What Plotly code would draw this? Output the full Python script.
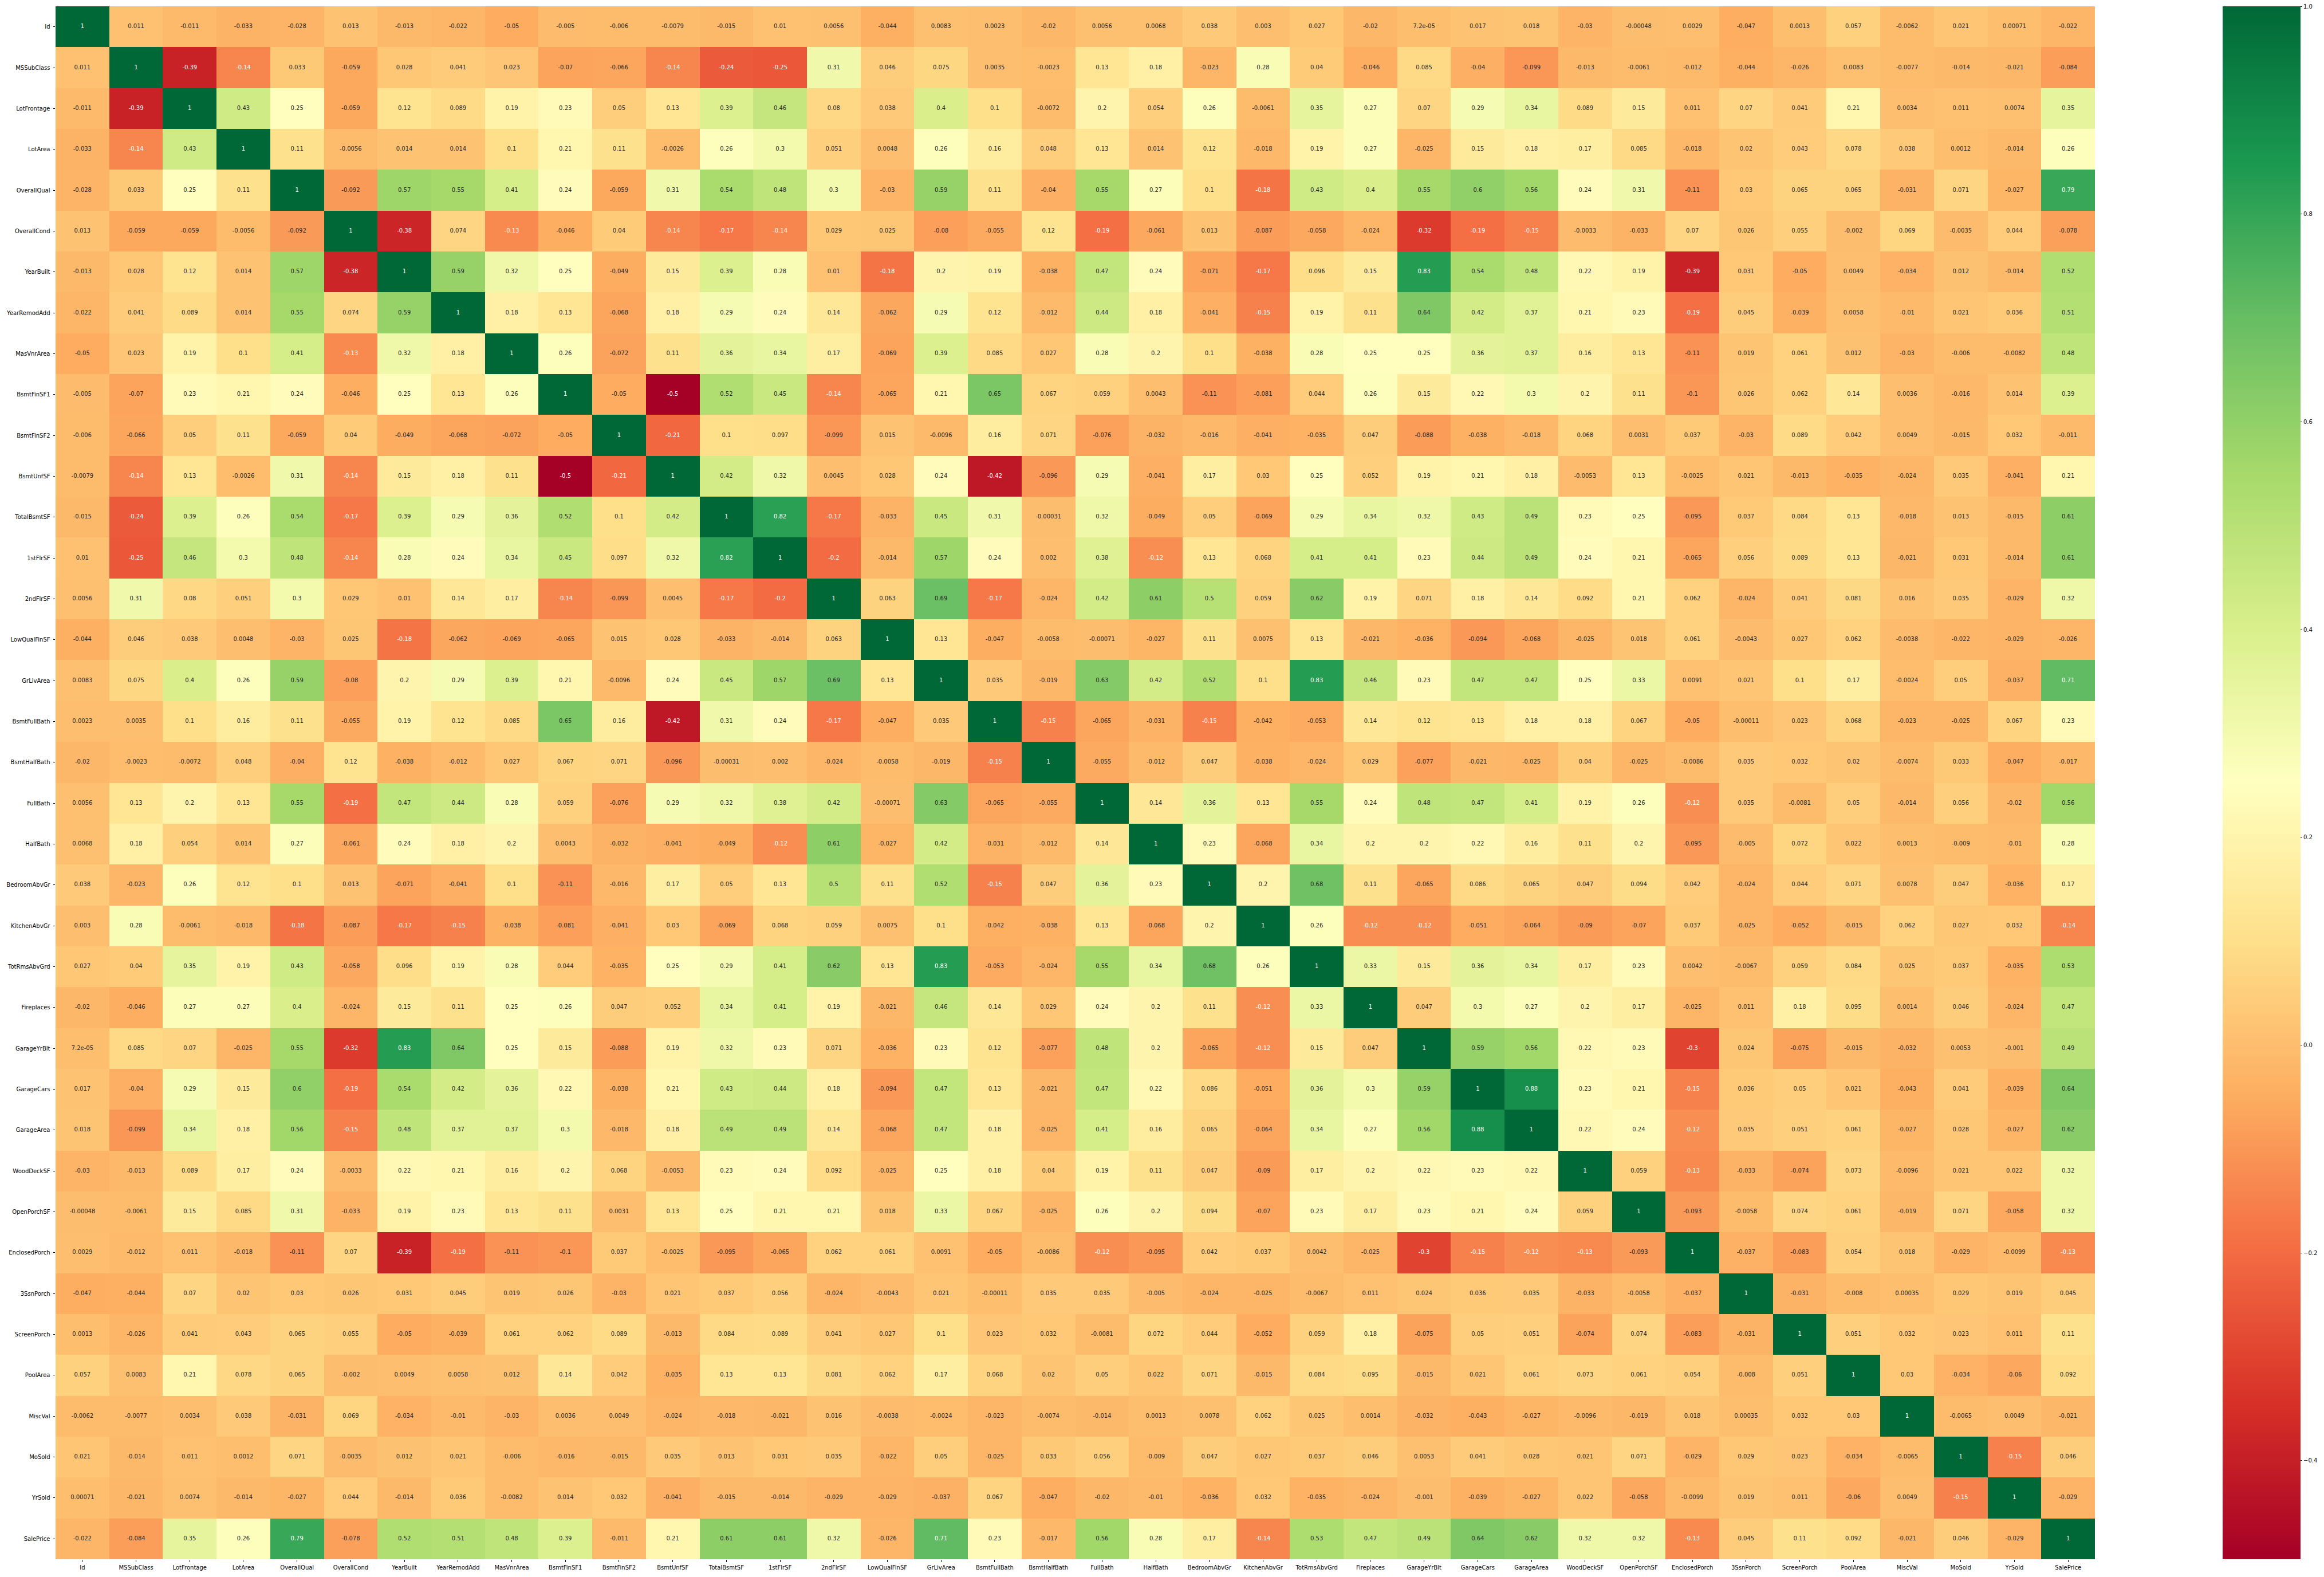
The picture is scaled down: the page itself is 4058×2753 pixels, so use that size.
import plotly.graph_objects as go

columns = ["Id", "MSSubClass", "LotFrontage", "LotArea", "OverallQual", "OverallCond",
           "YearBuilt", "YearRemodAdd", "MasVnrArea", "BsmtFinSF1", "BsmtFinSF2", "BsmtUnfSF",
           "TotalBsmtSF", "1stFlrSF", "2ndFlrSF", "LowQualFinSF", "GrLivArea", "BsmtFullBath",
           "BsmtHalfBath", "FullBath", "HalfBath", "BedroomAbvGr", "KitchenAbvGr", "TotRmsAbvGrd",
           "Fireplaces", "GarageYrBlt", "GarageCars", "GarageArea", "WoodDeckSF", "OpenPorchSF",
           "EnclosedPorch", "3SsnPorch", "ScreenPorch", "PoolArea", "MiscVal", "MoSold", "YrSold",
           "SalePrice"]

# Lower-triangle rows of the correlation matrix (row i holds columns 0..i)
row_Id = [1]
row_MSSubClass = [0.011, 1]
row_LotFrontage = [-0.011, -0.39, 1]
row_LotArea = [-0.033, -0.14, 0.43, 1]
row_OverallQual = [-0.028, 0.033, 0.25, 0.11, 1]
row_OverallCond = [0.013, -0.059, -0.059, -0.0056, -0.092, 1]
row_YearBuilt = [-0.013, 0.028, 0.12, 0.014, 0.57, -0.38, 1]
row_YearRemodAdd = [-0.022, 0.041, 0.089, 0.014, 0.55, 0.074, 0.59, 1]
row_MasVnrArea = [-0.05, 0.023, 0.19, 0.1, 0.41, -0.13, 0.32, 0.18, 1]
row_BsmtFinSF1 = [-0.005, -0.07, 0.23, 0.21, 0.24, -0.046, 0.25, 0.13, 0.26, 1]
row_BsmtFinSF2 = [-0.006, -0.066, 0.05, 0.11, -0.059, 0.04, -0.049, -0.068, -0.072, -0.05, 1]
row_BsmtUnfSF = [-0.0079, -0.14, 0.13, -0.0026, 0.31, -0.14, 0.15, 0.18, 0.11, -0.5, -0.21, 1]
row_TotalBsmtSF = [-0.015, -0.24, 0.39, 0.26, 0.54, -0.17, 0.39, 0.29, 0.36, 0.52, 0.1, 0.42, 1]
row_1stFlrSF = [0.01, -0.25, 0.46, 0.3, 0.48, -0.14, 0.28, 0.24, 0.34, 0.45, 0.097, 0.32, 0.82, 1]
row_2ndFlrSF = [0.0056, 0.31, 0.08, 0.051, 0.3, 0.029, 0.01, 0.14, 0.17, -0.14, -0.099, 0.0045,
                -0.17, -0.2, 1]
row_LowQualFinSF = [-0.044, 0.046, 0.038, 0.0048, -0.03, 0.025, -0.18, -0.062, -0.069, -0.065,
                    0.015, 0.028, -0.033, -0.014, 0.063, 1]
row_GrLivArea = [0.0083, 0.075, 0.4, 0.26, 0.59, -0.08, 0.2, 0.29, 0.39, 0.21, -0.0096, 0.24,
                 0.45, 0.57, 0.69, 0.13, 1]
row_BsmtFullBath = [0.0023, 0.0035, 0.1, 0.16, 0.11, -0.055, 0.19, 0.12, 0.085, 0.65, 0.16,
                    -0.42, 0.31, 0.24, -0.17, -0.047, 0.035, 1]
row_BsmtHalfBath = [-0.02, -0.0023, -0.0072, 0.048, -0.04, 0.12, -0.038, -0.012, 0.027, 0.067,
                    0.071, -0.096, -0.00031, 0.002, -0.024, -0.0058, -0.019, -0.15, 1]
row_FullBath = [0.0056, 0.13, 0.2, 0.13, 0.55, -0.19, 0.47, 0.44, 0.28, 0.059, -0.076, 0.29,
                0.32, 0.38, 0.42, -0.00071, 0.63, -0.065, -0.055, 1]
row_HalfBath = [0.0068, 0.18, 0.054, 0.014, 0.27, -0.061, 0.24, 0.18, 0.2, 0.0043, -0.032,
                -0.041, -0.049, -0.12, 0.61, -0.027, 0.42, -0.031, -0.012, 0.14, 1]
row_BedroomAbvGr = [0.038, -0.023, 0.26, 0.12, 0.1, 0.013, -0.071, -0.041, 0.1, -0.11, -0.016,
                    0.17, 0.05, 0.13, 0.5, 0.11, 0.52, -0.15, 0.047, 0.36, 0.23, 1]
row_KitchenAbvGr = [0.003, 0.28, -0.0061, -0.018, -0.18, -0.087, -0.17, -0.15, -0.038, -0.081,
                    -0.041, 0.03, -0.069, 0.068, 0.059, 0.0075, 0.1, -0.042, -0.038, 0.13,
                    -0.068, 0.2, 1]
row_TotRmsAbvGrd = [0.027, 0.04, 0.35, 0.19, 0.43, -0.058, 0.096, 0.19, 0.28, 0.044, -0.035,
                    0.25, 0.29, 0.41, 0.62, 0.13, 0.83, -0.053, -0.024, 0.55, 0.34, 0.68, 0.26, 1]
row_Fireplaces = [-0.02, -0.046, 0.27, 0.27, 0.4, -0.024, 0.15, 0.11, 0.25, 0.26, 0.047, 0.052,
                  0.34, 0.41, 0.19, -0.021, 0.46, 0.14, 0.029, 0.24, 0.2, 0.11, -0.12, 0.33, 1]
row_GarageYrBlt = [7.2e-05, 0.085, 0.07, -0.025, 0.55, -0.32, 0.83, 0.64, 0.25, 0.15, -0.088,
                   0.19, 0.32, 0.23, 0.071, -0.036, 0.23, 0.12, -0.077, 0.48, 0.2, -0.065, -0.12,
                   0.15, 0.047, 1]
row_GarageCars = [0.017, -0.04, 0.29, 0.15, 0.6, -0.19, 0.54, 0.42, 0.36, 0.22, -0.038, 0.21,
                  0.43, 0.44, 0.18, -0.094, 0.47, 0.13, -0.021, 0.47, 0.22, 0.086, -0.051, 0.36,
                  0.3, 0.59, 1]
row_GarageArea = [0.018, -0.099, 0.34, 0.18, 0.56, -0.15, 0.48, 0.37, 0.37, 0.3, -0.018, 0.18,
                  0.49, 0.49, 0.14, -0.068, 0.47, 0.18, -0.025, 0.41, 0.16, 0.065, -0.064, 0.34,
                  0.27, 0.56, 0.88, 1]
row_WoodDeckSF = [-0.03, -0.013, 0.089, 0.17, 0.24, -0.0033, 0.22, 0.21, 0.16, 0.2, 0.068,
                  -0.0053, 0.23, 0.24, 0.092, -0.025, 0.25, 0.18, 0.04, 0.19, 0.11, 0.047, -0.09,
                  0.17, 0.2, 0.22, 0.23, 0.22, 1]
row_OpenPorchSF = [-0.00048, -0.0061, 0.15, 0.085, 0.31, -0.033, 0.19, 0.23, 0.13, 0.11, 0.0031,
                   0.13, 0.25, 0.21, 0.21, 0.018, 0.33, 0.067, -0.025, 0.26, 0.2, 0.094, -0.07,
                   0.23, 0.17, 0.23, 0.21, 0.24, 0.059, 1]
row_EnclosedPorch = [0.0029, -0.012, 0.011, -0.018, -0.11, 0.07, -0.39, -0.19, -0.11, -0.1,
                     0.037, -0.0025, -0.095, -0.065, 0.062, 0.061, 0.0091, -0.05, -0.0086, -0.12,
                     -0.095, 0.042, 0.037, 0.0042, -0.025, -0.3, -0.15, -0.12, -0.13, -0.093, 1]
row_3SsnPorch = [-0.047, -0.044, 0.07, 0.02, 0.03, 0.026, 0.031, 0.045, 0.019, 0.026, -0.03,
                 0.021, 0.037, 0.056, -0.024, -0.0043, 0.021, -0.00011, 0.035, 0.035, -0.005,
                 -0.024, -0.025, -0.0067, 0.011, 0.024, 0.036, 0.035, -0.033, -0.0058, -0.037, 1]
row_ScreenPorch = [0.0013, -0.026, 0.041, 0.043, 0.065, 0.055, -0.05, -0.039, 0.061, 0.062,
                   0.089, -0.013, 0.084, 0.089, 0.041, 0.027, 0.1, 0.023, 0.032, -0.0081, 0.072,
                   0.044, -0.052, 0.059, 0.18, -0.075, 0.05, 0.051, -0.074, 0.074, -0.083,
                   -0.031, 1]
row_PoolArea = [0.057, 0.0083, 0.21, 0.078, 0.065, -0.002, 0.0049, 0.0058, 0.012, 0.14, 0.042,
                -0.035, 0.13, 0.13, 0.081, 0.062, 0.17, 0.068, 0.02, 0.05, 0.022, 0.071, -0.015,
                0.084, 0.095, -0.015, 0.021, 0.061, 0.073, 0.061, 0.054, -0.008, 0.051, 1]
row_MiscVal = [-0.0062, -0.0077, 0.0034, 0.038, -0.031, 0.069, -0.034, -0.01, -0.03, 0.0036,
               0.0049, -0.024, -0.018, -0.021, 0.016, -0.0038, -0.0024, -0.023, -0.0074, -0.014,
               0.0013, 0.0078, 0.062, 0.025, 0.0014, -0.032, -0.043, -0.027, -0.0096, -0.019,
               0.018, 0.00035, 0.032, 0.03, 1]
row_MoSold = [0.021, -0.014, 0.011, 0.0012, 0.071, -0.0035, 0.012, 0.021, -0.006, -0.016, -0.015,
              0.035, 0.013, 0.031, 0.035, -0.022, 0.05, -0.025, 0.033, 0.056, -0.009, 0.047,
              0.027, 0.037, 0.046, 0.0053, 0.041, 0.028, 0.021, 0.071, -0.029, 0.029, 0.023,
              -0.034, -0.0065, 1]
row_YrSold = [0.00071, -0.021, 0.0074, -0.014, -0.027, 0.044, -0.014, 0.036, -0.0082, 0.014,
              0.032, -0.041, -0.015, -0.014, -0.029, -0.029, -0.037, 0.067, -0.047, -0.02, -0.01,
              -0.036, 0.032, -0.035, -0.024, -0.001, -0.039, -0.027, 0.022, -0.058, -0.0099,
              0.019, 0.011, -0.06, 0.0049, -0.15, 1]
row_SalePrice = [-0.022, -0.084, 0.35, 0.26, 0.79, -0.078, 0.52, 0.51, 0.48, 0.39, -0.011, 0.21,
                 0.61, 0.61, 0.32, -0.026, 0.71, 0.23, -0.017, 0.56, 0.28, 0.17, -0.14, 0.53,
                 0.47, 0.49, 0.64, 0.62, 0.32, 0.32, -0.13, 0.045, 0.11, 0.092, -0.021, 0.046,
                 -0.029, 1]

lower_rows = [row_Id, row_MSSubClass, row_LotFrontage, row_LotArea, row_OverallQual,
              row_OverallCond, row_YearBuilt, row_YearRemodAdd, row_MasVnrArea, row_BsmtFinSF1,
              row_BsmtFinSF2, row_BsmtUnfSF, row_TotalBsmtSF, row_1stFlrSF, row_2ndFlrSF,
              row_LowQualFinSF, row_GrLivArea, row_BsmtFullBath, row_BsmtHalfBath, row_FullBath,
              row_HalfBath, row_BedroomAbvGr, row_KitchenAbvGr, row_TotRmsAbvGrd, row_Fireplaces,
              row_GarageYrBlt, row_GarageCars, row_GarageArea, row_WoodDeckSF, row_OpenPorchSF,
              row_EnclosedPorch, row_3SsnPorch, row_ScreenPorch, row_PoolArea, row_MiscVal,
              row_MoSold, row_YrSold, row_SalePrice]

# colour-bar range
cbar_min = -0.495
cbar_max = 1.0
cbar_tickvals = [-0.4, -0.2, 0.0, 0.2, 0.4, 0.6, 0.8, 1.0]
cbar_ticktext = ["\u22120.4", "\u22120.2", "0.0", "0.2", "0.4", "0.6", "0.8", "1.0"]

n = len(columns)
for i, r in enumerate(lower_rows):
    assert len(r) == i + 1, (columns[i], len(r))

# full symmetric matrix
z = [[0.0] * n for _ in range(n)]
for i in range(n):
    for j in range(i + 1):
        z[i][j] = lower_rows[i][j]
        z[j][i] = lower_rows[i][j]

zmin, zmax = cbar_min, cbar_max

stops = ["#a50026", "#d73027", "#f46d43", "#fdae61", "#fee08b", "#ffffbf",
         "#d9ef8b", "#a6d96a", "#66bd63", "#1a9850", "#006837"]
colorscale = [[k / 10, c] for k, c in enumerate(stops)]


def hex2rgb(h):
    return tuple(int(h[k:k + 2], 16) / 255 for k in (1, 3, 5))


def cmap(v):
    t = (v - zmin) / (zmax - zmin)
    t = min(max(t, 0.0), 1.0)
    pos = t * 10
    k = min(int(pos), 9)
    f = pos - k
    a, b = hex2rgb(stops[k]), hex2rgb(stops[k + 1])
    return tuple(a[m] + (b[m] - a[m]) * f for m in range(3))


def luminance(rgb):
    lin = [c / 12.92 if c <= 0.03928 else ((c + 0.055) / 1.055) ** 2.4 for c in rgb]
    return 0.2126 * lin[0] + 0.7152 * lin[1] + 0.0722 * lin[2]


tx, ty, tt, tc = [], [], [], []
for i in range(n):
    for j in range(n):
        v = z[i][j]
        tx.append(columns[j])
        ty.append(columns[i])
        tt.append(format(v, ".2g"))
        tc.append("#262626" if luminance(cmap(v)) > 0.408 else "#ffffff")

fig = go.Figure()
fig.add_trace(go.Heatmap(
    z=z, x=columns, y=columns,
    colorscale=colorscale, zmin=zmin, zmax=zmax,
    xgap=0, ygap=0, hoverongaps=False,
    colorbar=dict(
        thickness=136, thicknessmode="pixels",
        len=1.0, lenmode="fraction",
        x=1.0627, xanchor="left", xref="paper", xpad=0,
        y=0.5, yanchor="middle", yref="paper", ypad=0,
        outlinewidth=0,
        tickvals=cbar_tickvals, ticktext=cbar_ticktext,
        ticks="outside", ticklen=3.5, tickwidth=0.8, tickcolor="#000000",
        tickfont=dict(family="DejaVu Sans", size=10, color="#000000"),
    ),
))
fig.add_trace(go.Scatter(
    x=tx, y=ty, text=tt, mode="text",
    textposition="middle center",
    textfont=dict(family="DejaVu Sans", size=10, color=tc),
    hoverinfo="skip", showlegend=False,
))

fig.update_layout(
    width=4058, height=2753,
    margin=dict(l=90, r=398, t=11, b=24, pad=0),
    paper_bgcolor="#ffffff", plot_bgcolor="#ffffff",
    showlegend=False,
    font=dict(family="DejaVu Sans", size=10, color="#000000"),
    xaxis=dict(type="category", categoryorder="array", categoryarray=columns,
               ticks="outside", ticklen=3.5, tickwidth=0.8, tickcolor="#000000",
               ticklabelstandoff=1,
               tickangle=0, showgrid=False, zeroline=False, showline=False,
               tickfont=dict(family="DejaVu Sans", size=10, color="#000000"),
               range=[-0.5, n - 0.5]),
    yaxis=dict(type="category", categoryorder="array", categoryarray=columns,
               autorange=False, range=[n - 0.5, -0.5],
               ticks="outside", ticklen=3.5, tickwidth=0.8, tickcolor="#000000",
               ticklabelstandoff=3,
               showgrid=False, zeroline=False, showline=False,
               tickfont=dict(family="DejaVu Sans", size=10, color="#000000")),
)

fig.write_html("out.html")
